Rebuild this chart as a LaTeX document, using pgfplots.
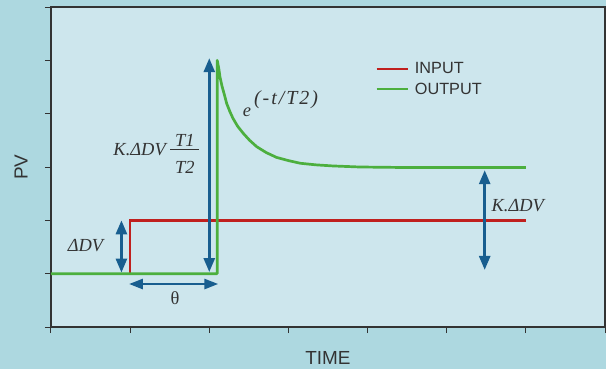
\documentclass[border=0pt]{standalone}
\usepackage{fontspec}
\setmainfont{Liberation Serif}
\setsansfont{Liberation Sans}
\usepackage{pgfplots}
\pgfplotsset{compat=1.18}
\usetikzlibrary{arrows.meta}
\definecolor{outerbg}{RGB}{173,216,224}
\definecolor{innerbg}{RGB}{205,230,237}
\definecolor{inred}{RGB}{192,32,30}
\definecolor{outgreen}{RGB}{76,175,62}
\definecolor{arrblue}{RGB}{24,94,143}
\definecolor{txt}{RGB}{51,51,51}
\begin{document}
\begin{tikzpicture}
\fill[outerbg] (-51bp,-42bp) rectangle (555bp,327bp);
\begin{axis}[
  at={(0,0)}, anchor=south west,
  scale only axis, width=554bp, height=320bp,
  xmin=0, xmax=7, ymin=0, ymax=6,
  xtick={0,...,7}, ytick={0,...,6},
  xticklabels={}, yticklabels={},
  tick align=outside, xtick pos=bottom, ytick pos=left,
  major tick length=6bp,
  every tick/.style={txt, line width=1bp},
  axis line style={txt, line width=1.3bp},
  axis background/.style={fill=innerbg},
  xlabel={TIME}, ylabel={PV},
  label style={font=\sffamily\fontsize{19}{22}\selectfont, text=txt},
  xlabel style={at={(axis description cs:0.5,-0.097)}, anchor=center},
  ylabel style={at={(axis description cs:-0.054,0.5)}, anchor=center},
  legend style={draw=none, fill=none, at={(axis description cs:0.5854,0.836)}, anchor=north west,
    font=\sffamily\fontsize{16.3}{19}\selectfont, text=txt, row sep=1.5bp, inner sep=0pt,
    nodes={inner sep=3bp}},
  legend cell align=left,
  legend image code/.code={\draw[#1, line width=2.2bp] (0bp,0bp) -- (31bp,0bp); \path (34bp,0bp);},
  clip=false,
]
\addplot[inred, line width=2.7bp] coordinates {(1,1) (1,2) (6,2)};
\addlegendentry{INPUT}
\addplot[outgreen, line width=2.7bp, line join=round] coordinates {
 (0,1) (2.1,1) (2.1,5.0) (2.12,4.85) (2.135,4.69) (2.16,4.52) (2.19,4.36) (2.22,4.19)
 (2.26,4.04) (2.30,3.91) (2.36,3.76) (2.43,3.63) (2.51,3.50) (2.60,3.38) (2.72,3.27)
 (2.85,3.18) (3.0,3.12) (3.15,3.07) (3.35,3.04) (3.56,3.02) (3.9,3.0) (4.5,2.99) (6.0,2.99)};
\addlegendentry{OUTPUT}
\addplot[arrblue, line width=2.7bp, {Triangle[width=11bp,length=14bp]}-{Triangle[width=11bp,length=14bp]}, forget plot]
  coordinates {(0.89,1.02) (0.89,2.0)};
\addplot[arrblue, line width=2.7bp, {Triangle[width=11bp,length=14bp]}-{Triangle[width=11bp,length=14bp]}, forget plot]
  coordinates {(2.0,1.03) (2.0,5.04)};
\addplot[arrblue, line width=2.7bp, {Triangle[width=10bp,length=14bp]}-{Triangle[width=10bp,length=14bp]}, forget plot]
  coordinates {(0.985,0.806) (2.114,0.806)};
\addplot[arrblue, line width=2.7bp, {Triangle[width=11bp,length=14bp]}-{Triangle[width=11bp,length=14bp]}, forget plot]
  coordinates {(5.48,1.07) (5.48,2.94)};
\node[anchor=base, inner sep=0pt, text=txt, font=\fontsize{18.5}{22}\selectfont\itshape] at (axis cs:0.436,1.425) {ΔDV};
\node[anchor=base, inner sep=0pt, text=txt, font=\fontsize{18.5}{22}\selectfont] at (axis cs:1.567,0.425) {θ};
\node[anchor=base west, inner sep=0pt, text=txt, font=\fontsize{18.5}{22}\selectfont\itshape] at (axis cs:5.565,2.16) {K.ΔDV};
\node[anchor=base west, inner sep=0pt, text=txt, font=\fontsize{18.5}{22}\selectfont\itshape] at (axis cs:0.787,3.225)
  {K.ΔDV\hspace{4.5bp}\raisebox{-18.3bp}{\makebox[29bp]{T2}}\llap{\raisebox{8.3bp}{\makebox[29bp]{T1}}}\llap{\raisebox{5.3bp}{\rule{29bp}{0.9bp}}}};
\node[anchor=base west, inner sep=0pt, text=txt, font=\fontsize{18.5}{22}\selectfont\itshape] at (axis cs:2.422,3.94)
  {e\hspace{3bp}\raisebox{12.7bp}{\fontsize{20}{24}\selectfont\addfontfeatures{LetterSpace=10}(-t/T2)}};
\end{axis}
\pgfresetboundingbox
\path[use as bounding box] (-51bp,-42bp) rectangle (555bp,327bp);
\end{tikzpicture}
\end{document}
